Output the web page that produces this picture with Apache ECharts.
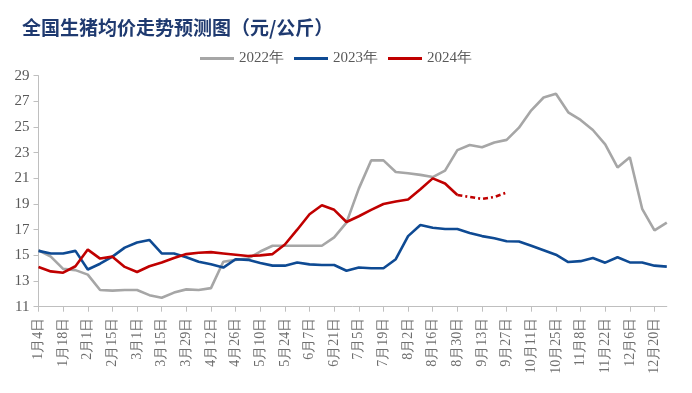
<!DOCTYPE html>
<html>
<head>
<meta charset="utf-8">
<script src="https://cdn.jsdelivr.net/npm/echarts@6/dist/echarts.min.js"></script>
<style>html,body{margin:0;padding:0;background:#fff}#c{width:692px;height:393px}</style>
</head>
<body>
<div id="c"></div>
<script>
var categories = ["1月4日","1月11日","1月18日","1月25日","2月1日","2月8日","2月15日","2月22日","3月1日","3月8日","3月15日","3月22日","3月29日","4月5日","4月12日","4月19日","4月26日","5月3日","5月10日","5月17日","5月24日","5月31日","6月7日","6月14日","6月21日","6月28日","7月5日","7月12日","7月19日","7月26日","8月2日","8月9日","8月16日","8月23日","8月30日","9月6日","9月13日","9月20日","9月27日","10月4日","10月11日","10月18日","10月25日","11月1日","11月8日","11月15日","11月22日","11月29日","12月6日","12月13日","12月20日","12月27日"];
var values2022 = [15.4,14.9,13.95,13.85,13.5,12.3,12.25,12.3,12.3,11.9,11.7,12.1,12.35,12.3,12.45,14.5,14.65,14.75,15.3,15.75,15.75,15.75,15.75,15.75,16.4,17.55,20.2,22.4,22.4,21.5,21.4,21.27,21.1,21.6,23.2,23.6,23.42,23.8,24.0,24.95,26.3,27.3,27.6,26.15,25.55,24.77,23.65,21.85,22.65,18.63,16.95,17.55];
var values2023 = [15.35,15.15,15.15,15.35,13.9,14.35,14.9,15.6,16.0,16.2,15.15,15.15,14.85,14.5,14.3,14.05,14.7,14.65,14.4,14.2,14.2,14.45,14.3,14.25,14.25,13.8,14.05,14.0,14.0,14.7,16.5,17.37,17.15,17.05,17.05,16.75,16.5,16.33,16.1,16.08,15.75,15.4,15.05,14.48,14.55,14.8,14.43,14.85,14.45,14.45,14.2,14.12];
var values2024 = [14.1,13.75,13.65,14.15,15.45,14.75,14.9,14.1,13.7,14.15,14.45,14.8,15.1,15.2,15.25,15.15,15.05,14.95,15.0,15.1,15.85,17.0,18.2,18.9,18.55,17.6,18.05,18.55,19.0,19.2,19.35,20.15,21.0,20.6,19.7];
var forecastStart = 34;
var forecast2024 = [19.7,19.55,19.4,19.55,19.9];
var yTicks = {min: 11, max: 29, step: 2};

var forecastData = categories.map(function(_, i){
  var k = i - forecastStart;
  return (k >= 0 && k < forecast2024.length) ? forecast2024[k] : null;
});

var serif = 'Liberation Serif';
var chart = echarts.init(document.getElementById('c'), null, {renderer: 'canvas'});
chart.setOption({
  animation: false,
  backgroundColor: '#ffffff',
  title: {
    text: '全国生猪均价走势预测图（元/公斤）',
    left: 17, top: 13,
    textStyle: {fontFamily: 'Noto Sans CJK SC', fontWeight: 'bold', fontSize: 19, color: '#1F3A70'}
  },
  legend: {
    data: ['2022年','2023年','2024年'],
    left: 195, top: 46,
    icon: 'rect', itemWidth: 34, itemHeight: 3, itemGap: 10,
    textStyle: {fontFamily: serif, fontSize: 15, color: '#595959'}
  },
  grid: {left: 38.5, right: 25.2, top: 75.7, bottom: 86.3, containLabel: false},
  xAxis: {
    type: 'category', data: categories, boundaryGap: false,
    axisLine: {lineStyle: {color: '#BFBFBF', width: 1}},
    axisTick: {show: true, interval: 1, length: 5, lineStyle: {color: '#BFBFBF'}},
    axisLabel: {interval: 1, rotate: 90, margin: 11, fontFamily: serif, fontSize: 14, color: '#6E6E6E'},
    splitLine: {show: false}
  },
  yAxis: {
    type: 'value', min: yTicks.min, max: yTicks.max, interval: yTicks.step,
    axisLine: {show: true, lineStyle: {color: '#BFBFBF', width: 1}},
    axisTick: {show: true, length: 5, lineStyle: {color: '#BFBFBF'}},
    axisLabel: {margin: 9, fontFamily: serif, fontSize: 15, color: '#595959'},
    splitLine: {show: false}
  },
  series: [
    {name: '2022年', type: 'line', data: values2022, symbol: 'none', lineStyle: {color: '#A6A6A6', width: 2.6}, itemStyle: {color: '#A6A6A6'}},
    {name: '2023年', type: 'line', data: values2023, symbol: 'none', lineStyle: {color: '#0E4A93', width: 2.6}, itemStyle: {color: '#0E4A93'}},
    {name: '2024年', type: 'line', data: values2024, symbol: 'none', lineStyle: {color: '#C00000', width: 2.6}, itemStyle: {color: '#C00000'}},
    {name: '2024年预测', type: 'line', data: forecastData, symbol: 'none', lineStyle: {color: '#C00000', width: 2.6, type: [5,3,2,3]}, itemStyle: {color: '#C00000'}}
  ]
});
</script>
</body>
</html>
